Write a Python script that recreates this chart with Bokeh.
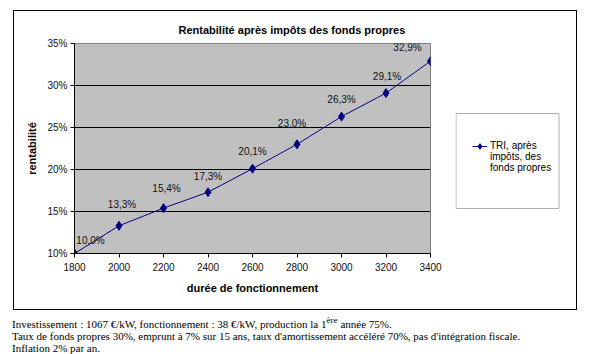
from bokeh.plotting import figure
from bokeh.models import (FixedTicker, PrintfTickFormatter, Legend, LegendItem,
                          ColumnDataSource, Div, BoxAnnotation)
from bokeh.layouts import column, row
from bokeh.core.properties import value
from bokeh.embed import file_html
from bokeh.resources import INLINE

# ---- data ----
durees = [1800, 2000, 2200, 2400, 2600, 2800, 3000, 3200, 3400]
tri = [10.0, 13.3, 15.4, 17.3, 20.1, 23.0, 26.3, 29.1, 32.9]
y_ticks = [10, 15, 20, 25, 30, 35]
title_text = "Rentabilité après impôts des fonds propres"
x_label = "durée de fonctionnement"
y_label = "rentabilité"
series_name = "TRI, après\nimpôts, des\nfonds propres"
note_lines = [
    "Investissement : 1067 €/kW, fonctionnement : 38 €/kW, production la 1<sup>ère</sup> année 75%.",
    "Taux de fonds propres 30%, emprunt à 7% sur 15 ans, taux d'amortissement accéléré 70%, pas d'intégration fiscale.",
    "Inflation 2% par an.",
]

# ---- layout (pixels) ----
CH = 298                    # chart box inner height (page y 11..309)
MW = 441                    # main canvas width (page x 14..455)
LW = 121                    # legend canvas width (page x 455..576)
FL, FR, FT, FB = 60, 416, 32, 242   # frame inside main canvas
FONT = "Liberation Sans"
NAVY = "#000080"

p = figure(width=MW, height=CH, output_backend="svg", toolbar_location=None,
           x_range=(durees[0], durees[-1]), y_range=(y_ticks[0], y_ticks[-1]),
           min_border_left=FL, min_border_right=MW - FR,
           min_border_top=FT, min_border_bottom=CH - FB)
p.background_fill_color = "#c0c0c0"
p.border_fill_color = "white"
p.outline_line_color = "#808080"

p.title.text = title_text
p.title.align = "left"
p.title.offset = 104
p.title.text_font = FONT
p.title.text_font_size = "11px"
p.title.text_font_style = "bold"
p.title.text_color = "black"
p.title.standoff = 16

# axes
p.xaxis.ticker = FixedTicker(ticks=durees)
p.yaxis.ticker = FixedTicker(ticks=y_ticks)
p.yaxis.formatter = PrintfTickFormatter(format="%d%%")
for ax in (p.xaxis[0], p.yaxis[0]):
    ax.major_label_text_font = FONT
    ax.major_label_text_font_size = "10px"
    ax.major_label_text_color = "#111111"
    ax.axis_line_color = "black"
    ax.major_tick_line_color = "black"
    ax.major_tick_in = 0
    ax.major_tick_out = 4
    ax.minor_tick_line_color = None
    ax.axis_label_text_font = FONT
    ax.axis_label_text_font_size = "11px"
    ax.axis_label_text_font_style = "bold"
    ax.axis_label_text_color = "black"
p.xaxis.axis_label = x_label
p.yaxis.axis_label = y_label
p.xaxis.major_label_standoff = 5
p.yaxis.major_label_standoff = 3
p.xaxis.axis_label_standoff = 8
p.yaxis.axis_label_standoff = 6

p.xgrid.grid_line_color = None
p.ygrid.grid_line_color = "black"
p.ygrid.grid_line_width = 1

# series
src = ColumnDataSource(dict(x=durees, y=tri,
                            lab=[f"{v:.1f}%".replace(".", ",") for v in tri]))
label_dx = [16, 3, 3, 0, 0, -5, 0, 1, -23]
label_dy = [-13, -21, -20, -16, -17, -21, -17, -17, -14]
src.data["xo"] = label_dx
src.data["yo"] = label_dy
p.line("x", "y", source=src, line_color=NAVY, line_width=1)
p.scatter("x", "y", source=src, marker="diamond", size=9,
          fill_color=NAVY, line_color=NAVY)
p.text("x", "y", text="lab", source=src, x_offset="xo", y_offset="yo",
       text_font=value(FONT), text_font_size="10px", text_color="#111111",
       text_align="center", text_baseline="middle")

# legend panel: its own canvas to the right of the plot, pixel ranges.
# The series is re-used there only to give the legend its sample glyph (out of view).
pl = figure(width=LW, height=CH, output_backend="svg", toolbar_location=None,
            x_range=(0, LW), y_range=(0, FB - FT), x_axis_location=None,
            y_axis_location=None, min_border_left=0, min_border_right=0,
            min_border_top=FT, min_border_bottom=CH - FB)
pl.outline_line_color = None
pl.background_fill_color = "white"
pl.border_fill_color = "white"
pl.grid.grid_line_color = None
lg_line = pl.line("x", "y", source=src, line_color=NAVY, line_width=1)
lg_mark = pl.scatter("x", "y", source=src, marker="diamond", size=9,
                     fill_color=NAVY, line_color=NAVY)
# legend box (page 455..558 x 113..208)
pl.add_layout(BoxAnnotation(left=0.5, right=103.5, top=FB - (113 - 11),
                            bottom=FB - (208 - 11), fill_alpha=0,
                            line_color="black", line_width=1))
# two leading blank lines keep the sample glyph level with the first text line
legend = Legend(items=[LegendItem(label="\n\n" + series_name,
                                  renderers=[lg_line, lg_mark])],
                location=(17, 80),
                border_line_color=None, background_fill_alpha=0,
                padding=0, margin=0, spacing=0,
                glyph_width=15, glyph_height=14,
                label_standoff=3, label_height=8,
                label_text_font=FONT, label_text_font_size="10px",
                label_text_color="black")
pl.add_layout(legend, "center")

chart = row(p, pl)
chart.margin = (11, 0, 0, 14)
chart.styles = {"outline": "1px solid black"}

notes = Div(text="<br>".join(note_lines), width=590,
            styles={"font-family": "'Liberation Serif', serif", "font-size": "11px",
                    "line-height": "12px", "color": "black"})
notes.margin = (5, 0, 0, 12)

layout = column(chart, notes)
open("out.html", "w").write(file_html(layout, INLINE))
